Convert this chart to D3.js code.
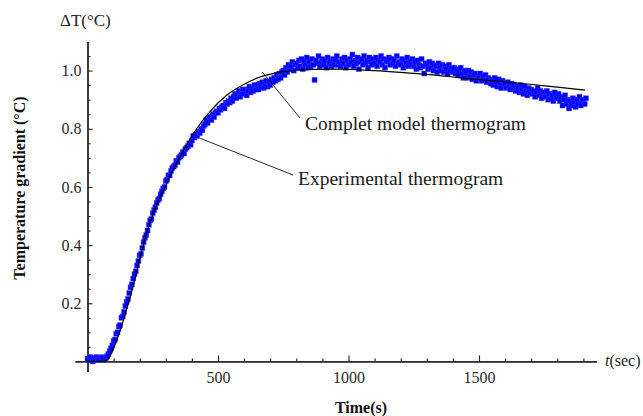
<!DOCTYPE html>
<html>
<head>
<meta charset="utf-8">
<script src="https://cdn.jsdelivr.net/npm/d3@7"></script>
<style>
  body { margin: 0; background: #fff; }
  svg { display: block; font-family: "Liberation Serif", "Times New Roman", serif; }
  .tick text { fill: #2a2a2a; }
</style>
</head>
<body>
<div id="chart"></div>
<script>
// experimental thermogram, one reading every 5 s starting at t = 0
const sampleStep = 5;
const expValues = [
  0.01, 0.005, 0.015, 0.01, 0.0, 0.012, 0.008, 0.015, 0.005, 0.01,
  0.008, 0.015, 0.012, 0.006, 0.012, 0.018, 0.025, 0.035, 0.045, 0.055,
  0.07, 0.075, 0.095, 0.10, 0.12, 0.125, 0.15, 0.155, 0.17, 0.19,
  0.205, 0.215, 0.235, 0.255, 0.265, 0.285, 0.30, 0.31, 0.33, 0.345,
  0.365, 0.37, 0.39, 0.41, 0.425, 0.435, 0.45, 0.47, 0.485, 0.49,
  0.51, 0.52, 0.53, 0.545, 0.555, 0.56, 0.575, 0.585, 0.595, 0.60,
  0.62, 0.625, 0.64, 0.64, 0.655, 0.665, 0.67, 0.675, 0.69, 0.685,
  0.70, 0.705, 0.71, 0.72, 0.715, 0.73, 0.735, 0.74, 0.75, 0.745,
  0.76, 0.775, 0.77, 0.78, 0.775, 0.79, 0.785, 0.80, 0.795, 0.81,
  0.815, 0.83, 0.82, 0.835, 0.84, 0.83, 0.85, 0.84, 0.855, 0.86,
  0.855, 0.87, 0.865, 0.875, 0.88, 0.87, 0.89, 0.885, 0.895, 0.89,
  0.905, 0.895, 0.91, 0.92, 0.905, 0.915, 0.93, 0.91, 0.925, 0.935,
  0.92, 0.935, 0.915, 0.93, 0.945, 0.925, 0.94, 0.93, 0.95, 0.935,
  0.95, 0.935, 0.955, 0.945, 0.96, 0.94, 0.955, 0.965, 0.945, 0.96,
  0.95, 0.97, 0.96, 0.975, 0.965, 0.985, 0.97, 0.99, 0.975, 0.995,
  1.0, 0.985, 1.01, 0.995, 1.02, 1.005, 1.015, 1.03, 1.0, 1.02,
  1.025, 1.01, 1.035, 1.015, 1.04, 1.005, 1.03, 1.02, 1.045, 1.01,
  1.03, 1.015, 1.04, 1.02, 0.968, 1.035, 1.025, 1.05, 1.015, 1.03,
  1.04, 1.02, 1.035, 1.01, 1.045, 1.025, 1.03, 1.015, 1.04, 1.02,
  1.035, 1.05, 1.02, 1.03, 1.015, 1.04, 1.025, 1.045, 1.01, 1.035,
  1.02, 1.04, 1.03, 1.055, 1.015, 1.035, 1.025, 1.045, 1.005, 1.03,
  1.04, 1.02, 1.05, 1.025, 1.035, 1.01, 1.045, 1.03, 1.02, 1.04,
  1.025, 1.045, 1.015, 1.035, 1.03, 1.05, 1.02, 1.04, 1.01, 1.035,
  1.03, 1.045, 1.02, 1.04, 1.025, 1.035, 1.015, 1.05, 1.025, 1.03,
  1.02, 1.04, 1.01, 1.035, 1.025, 1.045, 1.015, 1.03, 1.02, 1.04,
  1.015, 1.03, 1.005, 1.035, 1.02, 1.01, 1.04, 1.015, 0.99, 1.025,
  1.02, 1.005, 1.03, 1.01, 1.025, 1.0, 1.02, 1.015, 0.995, 1.025,
  1.01, 1.0, 1.02, 0.995, 1.015, 1.005, 0.99, 1.02, 1.0, 1.01,
  0.995, 1.01, 0.99, 1.005, 0.985, 1.0, 1.01, 0.99, 0.975, 1.0,
  0.99, 0.975, 1.0, 0.98, 0.995, 0.97, 0.985, 0.99, 0.965, 0.98,
  0.975, 0.99, 0.965, 0.98, 0.97, 0.985, 0.96, 0.975, 0.97, 0.955,
  0.965, 0.95, 0.975, 0.96, 0.945, 0.97, 0.955, 0.94, 0.965, 0.95,
  0.955, 0.94, 0.96, 0.945, 0.935, 0.955, 0.94, 0.95, 0.93, 0.945,
  0.94, 0.925, 0.95, 0.935, 0.92, 0.945, 0.93, 0.915, 0.94, 0.925,
  0.935, 0.92, 0.93, 0.91, 0.925, 0.94, 0.915, 0.93, 0.905, 0.92,
  0.925, 0.91, 0.93, 0.9, 0.92, 0.905, 0.915, 0.895, 0.925, 0.91,
  0.905, 0.92, 0.895, 0.91, 0.88, 0.9, 0.915, 0.885, 0.9, 0.87,
  0.895, 0.88, 0.905, 0.89, 0.875, 0.9, 0.885, 0.91, 0.88, 0.895,
  0.9, 0.885, 0.905
];

// complete model thermogram
const modelTime = [0, 60, 75, 90, 100, 125, 150, 175, 208, 233, 259, 300, 335, 380, 418, 470, 533, 600,
                   661, 750, 850, 967, 1100, 1200, 1312, 1400, 1500, 1600, 1695, 1800, 1906];
const modelValue = [0, 0, 0.005, 0.025, 0.045, 0.105, 0.18, 0.26, 0.38, 0.46, 0.525, 0.605, 0.67, 0.745, 0.80, 0.86, 0.915, 0.953,
                    0.978, 0.996, 1.004, 1.005, 1.0, 0.994, 0.986, 0.978, 0.969, 0.961, 0.953, 0.943, 0.933];

const xMajor = [500, 1000, 1500];
const xMinor = [100, 200, 300, 400, 600, 700, 800, 900, 1100, 1200, 1300, 1400, 1600, 1700, 1800, 1900];
const yMajor = [0.2, 0.4, 0.6, 0.8, 1.0];
const yMinor = [0.05, 0.1, 0.15, 0.25, 0.3, 0.35, 0.45, 0.5, 0.55, 0.65, 0.7, 0.75, 0.85, 0.9, 0.95, 1.05];

const W = 643, H = 416;
const svg = d3.select('#chart').append('svg')
  .attr('width', W)
  .attr('height', H);

let x = d3.scaleLinear().domain([0, 1000]).range([87.5, 348.5]);
let y = d3.scaleLinear().domain([0, 1]).range([361.4, 70.6]);

// axes cross at the origin and run a little past it, like the original
let xAxisScale = x.copy().domain([-48, 1950]).range([x(-48), x(1950)]);
let yAxisScale = y.copy().domain([-0.035, 1.1]).range([y(-0.035), y(1.1)]);

const axisColor = '#222';

let gx = svg.append('g').attr('transform', `translate(0,${y(0)})`);
gx.call(d3.axisBottom(xAxisScale).tickValues(xMinor).tickSize(-3).tickSizeOuter(0).tickFormat(''));
gx.append('g').call(d3.axisBottom(xAxisScale).tickValues(xMajor).tickSize(-6).tickSizeOuter(0).tickPadding(10).tickFormat(d3.format('d')));

let gy = svg.append('g').attr('transform', `translate(${x(0)},0)`);
gy.call(d3.axisLeft(yAxisScale).tickValues(yMinor).tickSize(-3).tickSizeOuter(0).tickFormat(''));
gy.append('g').call(d3.axisLeft(yAxisScale).tickValues(yMajor).tickSize(-5).tickSizeOuter(0).tickPadding(6).tickFormat(d3.format('.1f')));

svg.selectAll('.domain').attr('stroke', axisColor).attr('stroke-width', 1.3);
svg.selectAll('.tick line').attr('stroke', axisColor).attr('stroke-width', 1.1);
svg.selectAll('.tick text')
  .style('font-family', '"Liberation Serif", serif')
  .style('font-size', '16px');

// experimental points
const expData = expValues.map((v, i) => ({ t: i * sampleStep, v: v }));
const sz = 5;
svg.append('g')
  .selectAll('rect')
  .data(expData)
  .enter()
  .append('rect')
  .attr('x', d => x(d.t) - sz / 2)
  .attr('y', d => y(d.v) - sz / 2)
  .attr('width', sz)
  .attr('height', sz)
  .attr('fill', '#0000ff')
  .attr('stroke', '#3d3dff')
  .attr('stroke-opacity', 0.5)
  .attr('stroke-width', 0.8);

// model curve
const modelData = modelTime.map((t, i) => ({ t: t, v: modelValue[i] }));
svg.append('path')
  .datum(modelData)
  .attr('fill', 'none')
  .attr('stroke', '#000')
  .attr('stroke-width', 1.2)
  .attr('d', d3.line().x(d => x(d.t)).y(d => y(d.v)).curve(d3.curveMonotoneX));

// annotations
const notes = [
  { label: 'Complet model thermogram', t: 670, v: 0.995, tx: 305, ty: 130, lx: 300, ly: 118 },
  { label: 'Experimental thermogram', t: 432, v: 0.767, tx: 298, ty: 185, lx: 293, ly: 175 }
];
notes.forEach(n => {
  svg.append('line')
    .attr('x1', x(n.t)).attr('y1', y(n.v))
    .attr('x2', n.lx).attr('y2', n.ly)
    .attr('stroke', '#111').attr('stroke-width', 0.9);
  svg.append('text')
    .attr('x', n.tx).attr('y', n.ty)
    .attr('fill', '#1a1a1a')
    .style('font-size', '19.5px')
    .text(n.label);
});

// axis titles
svg.append('text').attr('x', 60).attr('y', 26)
  .attr('fill', '#222').style('font-size', '17px')
  .text('\u0394T(\u00b0C)');

let tsec = svg.append('text').attr('x', 605).attr('y', 366)
  .attr('fill', '#222').style('font-size', '16px');
tsec.append('tspan').style('font-style', 'italic').text('t');
tsec.append('tspan').text('(sec)');

svg.append('text').attr('x', 361).attr('y', 413)
  .attr('text-anchor', 'middle')
  .attr('fill', '#111').style('font-size', '16px').style('font-weight', 'bold')
  .text('Time(s)');

svg.append('text')
  .attr('transform', 'translate(25,188) rotate(-90)')
  .attr('text-anchor', 'middle')
  .attr('fill', '#111').style('font-size', '16px').style('font-weight', 'bold')
  .text('Temperature gradient (\u00b0C)');
</script>
</body>
</html>
